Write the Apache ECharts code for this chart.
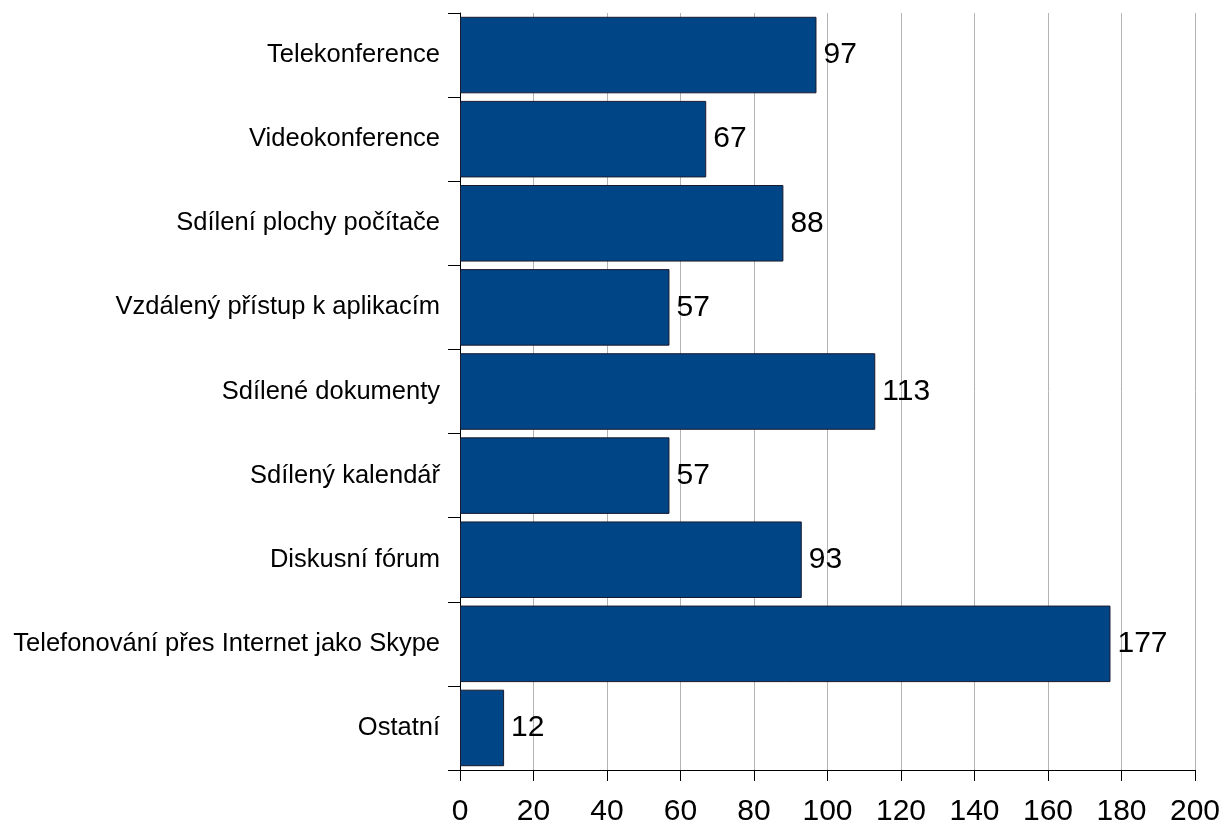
<!DOCTYPE html>
<html><head><meta charset="utf-8">
<script src="https://cdn.jsdelivr.net/npm/echarts@6/dist/echarts.min.js"></script>
<style>html,body{margin:0;padding:0;background:#fff}#c{width:1227px;height:827px}</style>
</head><body><div id="c"></div>
<script>
const categories = ["Telekonference","Videokonference","Sdílení plochy počítače","Vzdálený přístup k aplikacím","Sdílené dokumenty","Sdílený kalendář","Diskusní fórum","Telefonování přes Internet jako Skype","Ostatní"];
const values = [97,67,88,57,113,57,93,177,12];
const xTicks = [0,20,40,60,80,100,120,140,160,180,200];

const chart = echarts.init(document.getElementById('c'));
chart.setOption({
  animation:false,
  textStyle:{fontFamily:'"Liberation Sans", Arial, sans-serif'},
  grid:{left:460,right:32,top:13,bottom:51,containLabel:false},
  xAxis:{type:'value',min:xTicks[0],max:xTicks[xTicks.length-1],interval:20,
    axisLine:{show:true,lineStyle:{color:'#000',width:1}},
    axisTick:{show:true,length:11,lineStyle:{color:'#000'}},
    axisLabel:{color:'#000',fontSize:30,margin:27},
    splitLine:{show:true,lineStyle:{color:'#b3b3b3',width:1}}},
  yAxis:{type:'category',data:categories,inverse:true,
    axisLine:{show:true,lineStyle:{color:'#000',width:1}},
    axisTick:{show:true,length:12,lineStyle:{color:'#000'}},
    axisLabel:{color:'#000',fontSize:25.5,margin:20}},
  series:[{type:'bar',data:values,barCategoryGap:'9%',
    itemStyle:{color:'#004586',borderColor:'#1a1a2e',borderWidth:1},
    label:{show:true,position:'right',distance:7,color:'#000',fontSize:30}}]
});
</script></body></html>
